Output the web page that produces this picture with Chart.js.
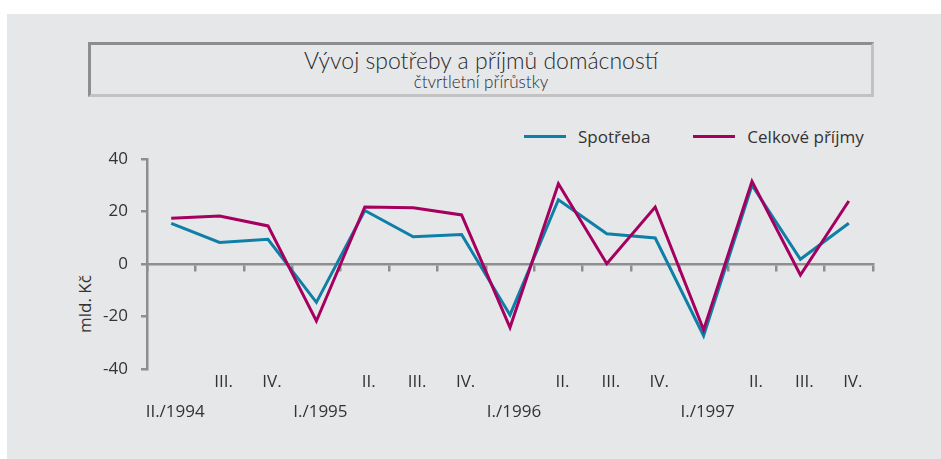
<!DOCTYPE html>
<html>
<head>
<meta charset="utf-8">
<script src="https://cdn.jsdelivr.net/npm/chart.js@4.4.0/dist/chart.umd.min.js"></script>
<style>
  html, body { margin: 0; padding: 0; background: #fff; }
  #wrap { position: relative; width: 941px; height: 459px; overflow: hidden; font-family: "Open Sans", sans-serif; color: #333; }
  #bg { position: absolute; left: 7px; top: 14px; right: 0; bottom: 0; background: #e6e7e9; }
  #titlebox { position: absolute; left: 88px; top: 42px; width: 780px; height: 49px;
    border-top: 3px solid #8e8e8e; border-left: 3px solid #8e8e8e;
    border-bottom: 3px solid #c2c2c2; border-right: 3px solid #c2c2c2; text-align: center; }
  #title { font-family: Lato, sans-serif; font-weight: 300; font-size: 23px; line-height: 24px; margin-top: 3px; color: #2a2a2a; }
  #subtitle { font-family: Lato, sans-serif; font-weight: 300; font-size: 17px; line-height: 20px; color: #2a2a2a; }
  #legend { position: absolute; left: 524px; top: 124px; height: 24px; display: flex; align-items: center; font-size: 17px; }
  .item { display: flex; align-items: center; margin-right: 43px; }
  .swatch { width: 42px; height: 3px; margin-right: 12px; }
  #ytitle { position: absolute; left: 84px; top: 304px; transform: translate(-50%, -50%) rotate(-90deg); font-size: 17px; white-space: nowrap; }
  canvas { position: absolute; left: 0; top: 0; }
</style>
</head>
<body>
<div id="wrap">
  <div id="bg"></div>
  <div id="titlebox">
    <div id="title">Vývoj spotřeby a příjmů domácností</div>
    <div id="subtitle">čtvrtletní přírůstky</div>
  </div>
  <div id="legend"></div>
  <div id="ytitle">mld. Kč</div>
  <canvas id="chart" width="941" height="459"></canvas>
</div>
<script>
// quarters, two label rows: [upper row, lower row]
const quarters = [
    ['', 'II./1994'], ['III.', ''], ['IV.', ''],
    ['', 'I./1995'], ['II.', ''], ['III.', ''], ['IV.', ''],
    ['', 'I./1996'], ['II.', ''], ['III.', ''], ['IV.', ''],
    ['', 'I./1997'], ['II.', ''], ['III.', ''], ['IV.', '']
];

const spotreba = [15.5, 8.2, 9.4, -14.6, 20.4, 10.4, 11.2, -19.4, 24.5, 11.5, 9.9, -27.3, 30.0, 1.8, 15.5];
const prijmy = [17.4, 18.3, 14.5, -21.7, 21.7, 21.4, 18.7, -24.2, 30.6, 0.1, 21.7, -25.1, 31.5, -4.2, 24.0];

const axis_color = '#8e8e8e';
const text_color = '#333333';

const datasets = [
    { label: 'Spotřeba', data: spotreba, borderColor: '#0e7fa6', backgroundColor: '#0e7fa6', order: 1 },
    { label: 'Celkové příjmy', data: prijmy, borderColor: '#a5005f', backgroundColor: '#a5005f', order: 0 }
];

// legend in html
const legend = document.getElementById('legend');
datasets.forEach(ds => {
    const item = document.createElement('div');
    item.className = 'item';
    const sw = document.createElement('div');
    sw.className = 'swatch';
    sw.style.background = ds.borderColor;
    const txt = document.createElement('span');
    txt.textContent = ds.label;
    item.appendChild(sw);
    item.appendChild(txt);
    legend.appendChild(item);
});

const chart = new Chart(document.getElementById('chart'), {
    type: 'line',
    data: {
        labels: quarters,
        datasets: datasets.map(ds => Object.assign({}, ds, {
            borderWidth: 3,
            pointRadius: 0,
            tension: 0,
            fill: false
        }))
    },
    options: {
        responsive: false,
        animation: false,
        layout: { padding: { top: 159, right: 68, left: 0, bottom: 34 } },
        plugins: { legend: { display: false }, tooltip: { enabled: false } },
        scales: {
            x: {
                type: 'category',
                offset: true,
                grid: { display: false, drawTicks: false },
                border: { display: false },
                ticks: {
                    autoSkip: false,
                    maxRotation: 0,
                    padding: -2,
                    labelOffset: 4,
                    color: text_color,
                    font: { family: 'Open Sans', size: 17, lineHeight: '30px' }
                }
            },
            x0: {
                axis: 'x',
                type: 'category',
                position: { y: 0 },
                offset: true,
                grid: { offset: true, drawOnChartArea: false, drawTicks: true, tickLength: 6, color: axis_color, lineWidth: 2.5 },
                border: { display: true, color: axis_color, width: 2.5 },
                ticks: { display: false }
            },
            y: {
                min: -40,
                max: 40,
                afterFit: (scale) => { scale.width = 147; },
                grid: { drawOnChartArea: false, drawTicks: true, tickLength: 6, color: axis_color, lineWidth: 2.5 },
                border: { display: true, color: axis_color, width: 2.5 },
                ticks: {
                    stepSize: 20,
                    padding: 13,
                    color: text_color,
                    font: { family: 'Open Sans', size: 17 }
                }
            }
        }
    }
});
</script>
</body>
</html>
